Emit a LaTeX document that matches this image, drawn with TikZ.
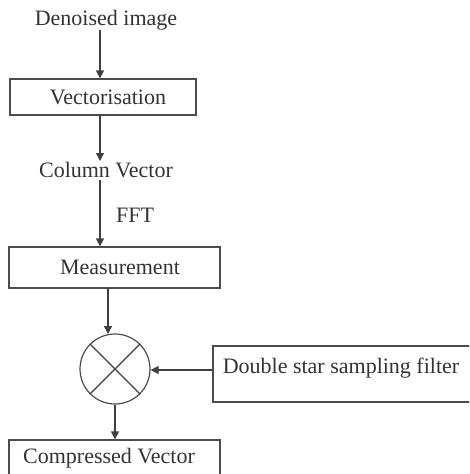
\documentclass[tikz,border=0pt]{standalone}
\usepackage{fontspec}
\setmainfont{Liberation Serif}
\usetikzlibrary{arrows.meta}
\begin{document}
\begin{tikzpicture}[x=1pt,y=-1pt,
  ln/.style={draw=black!75, line width=1.2pt},
  arr/.style={ln, -{Triangle[length=8pt,width=8pt]}},
  lbl/.style={font=\fontsize{22}{26}\selectfont, text=black!80, inner sep=0pt},
  box/.style={draw=black!70, line width=1.2pt, rectangle, inner sep=0pt}]
\clip (0,0) rectangle (469,474);
\fill[white] (0,0) rectangle (469,474);
% boxes
\node[box, minimum width=186pt, minimum height=36pt] (vec) at (103,97) {};
\node[box, minimum width=211pt, minimum height=41pt] (meas) at (114.5,267.5) {};
\node[box, minimum width=260pt, minimum height=56pt] (dss) at (343,374) {};
\node[box, minimum width=211pt, minimum height=60pt] (comp) at (114.5,470) {};
\node[draw=black!70, line width=1.2pt, circle, minimum size=70pt, inner sep=0pt] (mix) at (115,369) {};
\draw[ln] (mix.north west) -- (mix.south east) (mix.north east) -- (mix.south west);
% texts
\node[lbl] (den) at (106,20) {Denoised image};
\node[lbl] (vect) at (108,97) {Vectorisation};
\node[lbl] (col) at (106,170) {Column Vector};
\node[lbl] (fft) at (135,215) {FFT};
\node[lbl] (meast) at (120,267) {Measurement};
\node[lbl] (dsst) at (341,368) {Double star sampling filter};
\node[lbl] (compt) at (109,458) {Compressed Vector};
% connectors
\coordinate (d0) at (100,30);
\draw[arr] (d0) -- (d0 |- vec.north);
\coordinate (v0) at (100,115);
\draw[arr] (v0) -- (100,161);
\coordinate (c0) at (100,180);
\draw[arr] (c0) -- (c0 |- meas.north);
\coordinate (m0) at (108,288);
\draw[arr] (m0) -- (108,334);
\draw[arr] (dss.west |- 0,370) -- (mix.east |- 0,370);
\draw[arr] (mix.south) -- (mix.south |- comp.north);
\end{tikzpicture}
\end{document}
